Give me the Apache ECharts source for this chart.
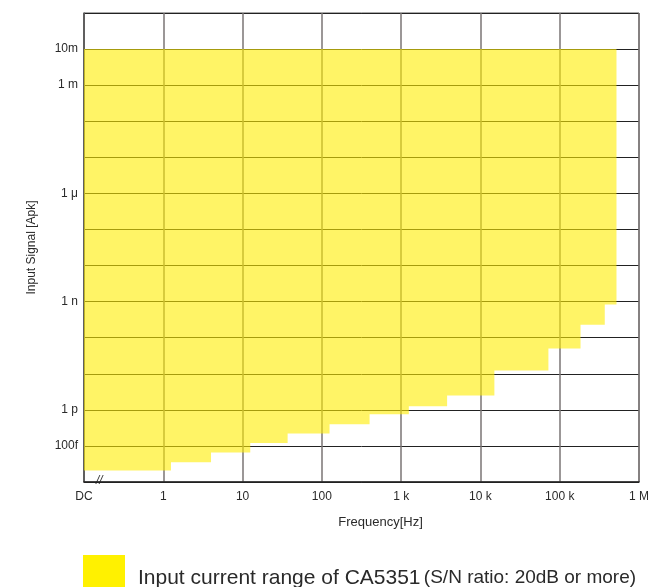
<!DOCTYPE html>
<html>
<head>
<meta charset="utf-8">
<script src="https://cdn.jsdelivr.net/npm/echarts@6/dist/echarts.min.js"></script>
<style>
  html, body { margin: 0; padding: 0; background: #fff; }
  #chart { width: 648px; height: 587px; }
</style>
</head>
<body>
<div id="chart"></div>
<script>
// step edges along frequency (Hz), first edge is the "DC" end of the axis
const stepEdges = [0.1, 1.25, 4, 12.5, 37, 125, 400, 1250, 3800, 15000, 72000, 183000, 370000, 520000]
// lower limit of each step (Apk), one per interval between edges
const floorLevels = [2.1e-14, 3.5e-14, 6.6e-14, 1.2e-13, 2.2e-13, 4e-13, 7.6e-13, 1.26e-12, 2.5e-12, 1.23e-11, 5e-11, 2.3e-10, 8.3e-10]
// upper limit of the range (Apk)
const topLevel = 1e-2

const xLabels = { '-1': 'DC', '0': '1', '1': '10', '2': '100', '3': '1 k', '4': '10 k', '5': '100 k', '6': '1 M' }
const yLabels = { '-2': '10m', '-3': '1 m', '-6': '1 μ', '-9': '1 n', '-12': '1 p', '-13': '100f' }

const seriesName = 'range'
const fontFamily = '"Liberation Sans", Arial, sans-serif'

const chart = echarts.init(document.getElementById('chart'))

function renderRange(params, api) {
  // outline: along the top, then down the staircase from right to left
  const pts = []
  const last = stepEdges.length - 1
  pts.push(api.coord([stepEdges[0], topLevel]))
  pts.push(api.coord([stepEdges[last], topLevel]))
  for (let i = floorLevels.length - 1; i >= 0; i--) {
    pts.push(api.coord([stepEdges[i + 1], floorLevels[i]]))
    pts.push(api.coord([stepEdges[i], floorLevels[i]]))
  }
  return {
    type: 'polygon',
    shape: { points: pts },
    style: { fill: 'rgba(255, 236, 0, 0.6)', stroke: null }
  }
}

const option = {
  animation: false,
  textStyle: { fontFamily: fontFamily },
  grid: {
    left: 84,
    right: 9,
    top: 13,
    bottom: 105,
    outerBoundsMode: 'none',
    show: true,
    borderColor: '#555',
    borderWidth: 1
  },
  legend: {
    left: 83,
    top: 555,
    padding: 0,
    icon: 'rect',
    itemWidth: 42,
    itemHeight: 40,
    itemGap: 10,
    selectedMode: false,
    data: [{ name: seriesName, itemStyle: { color: '#fff100', opacity: 1 } }],
    formatter: () => '{a|Input current range of CA5351} {b|(S/N ratio: 20dB or more)}',
    textStyle: {
      padding: [6, 0, 0, 8],
      rich: {
        a: { fontSize: 21, color: '#2a2a2a', fontFamily: fontFamily },
        b: { fontSize: 19, color: '#2a2a2a', fontFamily: fontFamily }
      }
    }
  },
  xAxis: {
    type: 'log',
    min: 0.1,
    max: 1e6,
    interval: 1,
    name: 'Frequency[Hz]',
    nameLocation: 'middle',
    nameGap: 34,
    nameTextStyle: { fontSize: 13, color: '#2a2a2a', padding: [0, 0, 0, 38] },
    axisLine: { lineStyle: { color: '#222', width: 1.5 } },
    axisTick: { show: false },
    axisLabel: {
      fontSize: 12,
      color: '#2a2a2a',
      margin: 9,
      showMinLabel: true,
      showMaxLabel: true,
      formatter: v => xLabels[String(Math.round(Math.log10(v)))] || ''
    },
    splitLine: { show: true, lineStyle: { color: '#7a7474', width: 1.5 } }
  },
  yAxis: {
    type: 'log',
    min: 1e-14,
    max: 1e-1,
    interval: 1,
    name: 'Input Signal [Apk]',
    nameLocation: 'middle',
    nameGap: 46,
    nameTextStyle: { fontSize: 12, color: '#2a2a2a' },
    axisLine: { show: true, lineStyle: { color: '#555', width: 1.5 } },
    axisTick: { show: false },
    axisLabel: {
      fontSize: 12,
      color: '#2a2a2a',
      margin: 6,
      showMinLabel: true,
      showMaxLabel: true,
      formatter: v => yLabels[String(Math.round(Math.log10(v)))] || ''
    },
    splitLine: { show: true, lineStyle: { color: '#222', width: 1 } }
  },
  graphic: [
    {
      type: 'text',
      left: 96,
      top: 475,
      style: { text: '//', fontSize: 12, fill: '#333', fontFamily: fontFamily, fontStyle: 'italic' }
    }
  ],
  series: [
    {
      name: seriesName,
      type: 'custom',
      coordinateSystem: 'cartesian2d',
      renderItem: renderRange,
      data: [[1, 1e-3]],
      silent: true,
      clip: true
    }
  ]
}

chart.setOption(option)
</script>
</body>
</html>
